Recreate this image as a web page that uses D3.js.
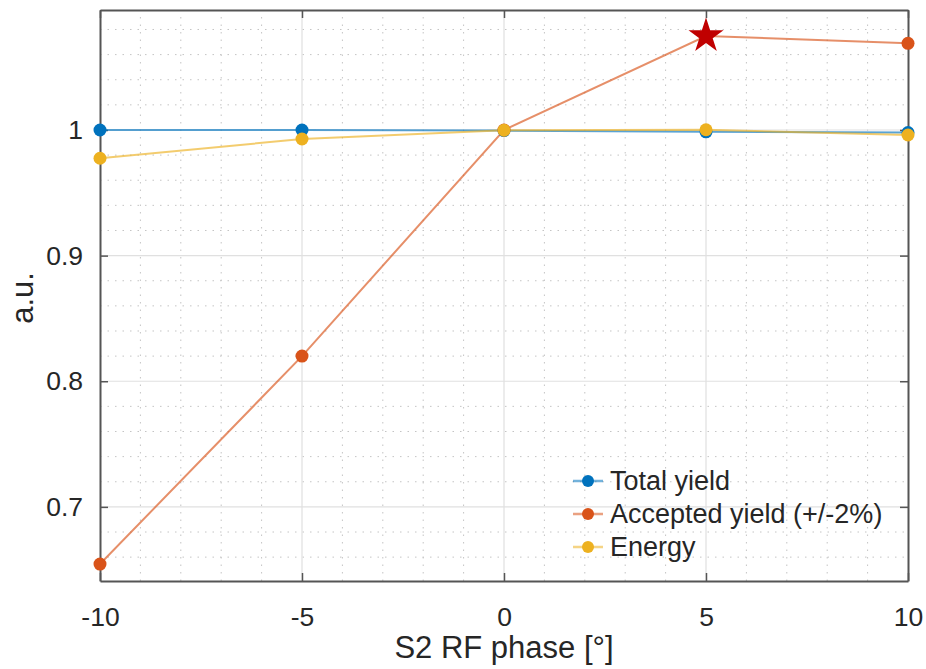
<!DOCTYPE html>
<html>
<head>
<meta charset="utf-8">
<script src="https://cdn.jsdelivr.net/npm/d3@7"></script>
<style>
  body { margin: 0; background: #fff; }
  text { font-family: "Liberation Sans", Arial, sans-serif; fill: #262626; }
</style>
</head>
<body>
<div id="chart"></div>
<script>
// data
const phases = [-10, -5, 0, 5, 10];
const total_yield = [1.0, 1.0, 0.9995, 0.9985, 0.998];
const accepted_yield = [0.6545, 0.82, 1.0, 1.0748, 1.069];
const energy = [0.9775, 0.9928, 0.9998, 1.0002, 0.996];
const series_names = ["Total yield", "Accepted yield (+/-2%)", "Energy"];
const series_colors = ["#0072BD", "#D95319", "#EDB120"];
const x_ticks = [-10, -5, 0, 5, 10];
const y_ticks = [0.7, 0.8, 0.9, 1];
const best_index = 3;

const width = 926, height = 669;
const margin = { left: 100, right: 18, top: 10, bottom: 88 };
const tick_font = 26.5;
const label_font = 31;

const svg = d3.select('#chart')
    .append('svg')
    .attr('width', width)
    .attr('height', height)

const x = d3.scaleLinear().domain([-10, 10]).range([margin.left, width - margin.right]);
const y = d3.scaleLinear().domain([0.641, 1.0955]).range([height - margin.bottom, margin.top]);

const x0 = x.range()[0], x1 = x.range()[1];
const y0 = y.range()[0], y1 = y.range()[1];

// minor grid (dotted)
const grid = svg.append('g')
grid.selectAll('line.minor-x')
    .data(d3.range(-10, 10.01, 1).filter(v => v % 5 != 0))
    .enter().append('line')
    .attr('x1', d => x(d)).attr('x2', d => x(d))
    .attr('y1', y0).attr('y2', y1)
    .attr('stroke', '#c4c4c4').attr('stroke-width', 1).attr('stroke-dasharray', '1.5 6')
grid.selectAll('line.minor-y')
    .data(d3.range(0.66, 1.09, 0.02).filter(v => Math.abs(Math.round(v * 10) - v * 10) > 0.01))
    .enter().append('line')
    .attr('x1', x0).attr('x2', x1)
    .attr('y1', d => y(d)).attr('y2', d => y(d))
    .attr('stroke', '#c4c4c4').attr('stroke-width', 1).attr('stroke-dasharray', '1.5 6')

// major grid
grid.selectAll('line.major-x')
    .data(x_ticks.slice(1, -1))
    .enter().append('line')
    .attr('x1', d => x(d)).attr('x2', d => x(d))
    .attr('y1', y0).attr('y2', y1)
    .attr('stroke', '#e0e0e0').attr('stroke-width', 1.2)
grid.selectAll('line.major-y')
    .data(y_ticks)
    .enter().append('line')
    .attr('x1', x0).attr('x2', x1)
    .attr('y1', d => y(d)).attr('y2', d => y(d))
    .attr('stroke', '#e0e0e0').attr('stroke-width', 1.2)

// axes, ticks inward, box on
const axis_color = '#555';
const tick_len = 8;
const axes = svg.append('g')
axes.append('g').attr('transform', `translate(0,${y0})`)
    .call(d3.axisBottom(x).tickValues(x_ticks).tickSizeInner(-tick_len).tickSizeOuter(0).tickPadding(26).tickFormat(d => String(d)))
axes.append('g').attr('transform', `translate(0,${y1})`)
    .call(d3.axisTop(x).tickValues(x_ticks).tickSizeInner(-tick_len).tickSizeOuter(0).tickFormat(''))
axes.append('g').attr('transform', `translate(${x0},0)`)
    .call(d3.axisLeft(y).tickValues(y_ticks).tickSizeInner(-tick_len).tickSizeOuter(0).tickPadding(17).tickFormat(d => d == 1 ? '1' : d3.format('.1f')(d)))
axes.append('g').attr('transform', `translate(${x1},0)`)
    .call(d3.axisRight(y).tickValues(y_ticks).tickSizeInner(-tick_len).tickSizeOuter(0).tickFormat(''))
axes.selectAll('.domain').attr('stroke', axis_color).attr('stroke-width', 2)
axes.selectAll('.tick line').attr('stroke', axis_color).attr('stroke-width', 1.5)
axes.selectAll('.tick text')
    .attr('font-size', tick_font)
    .attr('font-family', '"Liberation Sans", Arial, sans-serif')
    .attr('fill', '#262626')

// series
const all_series = [total_yield, accepted_yield, energy];
const line = d3.line().x((d, i) => x(phases[i])).y(d => y(d));
const plot = svg.append('g')
all_series.forEach((values, s) => {
    plot.append('path')
        .datum(values)
        .attr('d', line)
        .attr('fill', 'none')
        .attr('stroke', series_colors[s])
        .attr('stroke-opacity', 0.65)
        .attr('stroke-width', 2)
})
all_series.forEach((values, s) => {
    plot.selectAll(`circle.s${s}`)
        .data(values)
        .enter().append('circle')
        .attr('cx', (d, i) => x(phases[i]))
        .attr('cy', d => y(d))
        .attr('r', 6.5)
        .attr('fill', series_colors[s])
})

// star on best accepted yield
plot.append('path')
    .attr('d', d3.symbol().type(d3.symbolStar).size(380)())
    .attr('transform', `translate(${x(phases[best_index])},${y(accepted_yield[best_index])})`)
    .attr('fill', '#c00000')

// legend
const legend = svg.append('g').attr('transform', 'translate(573,481)')
series_names.forEach((name, s) => {
    const row = legend.append('g').attr('transform', `translate(0,${s * 33})`)
    row.append('line').attr('x1', 0).attr('x2', 30).attr('y1', 0).attr('y2', 0)
        .attr('stroke', series_colors[s]).attr('stroke-opacity', 0.55).attr('stroke-width', 2.5)
    row.append('circle').attr('cx', 15).attr('cy', 0).attr('r', 6).attr('fill', series_colors[s])
    row.append('text').attr('x', 37).attr('y', 0).attr('dy', '0.35em')
        .attr('font-size', 27).text(name)
})

// labels
svg.append('text')
    .attr('x', (x0 + x1) / 2).attr('y', 658)
    .attr('text-anchor', 'middle')
    .attr('font-size', label_font)
    .text('S2 RF phase [°]')
svg.append('text')
    .attr('transform', `translate(33,298) rotate(-90)`)
    .attr('text-anchor', 'middle')
    .attr('font-size', label_font)
    .text('a.u.')
</script>
</body>
</html>
